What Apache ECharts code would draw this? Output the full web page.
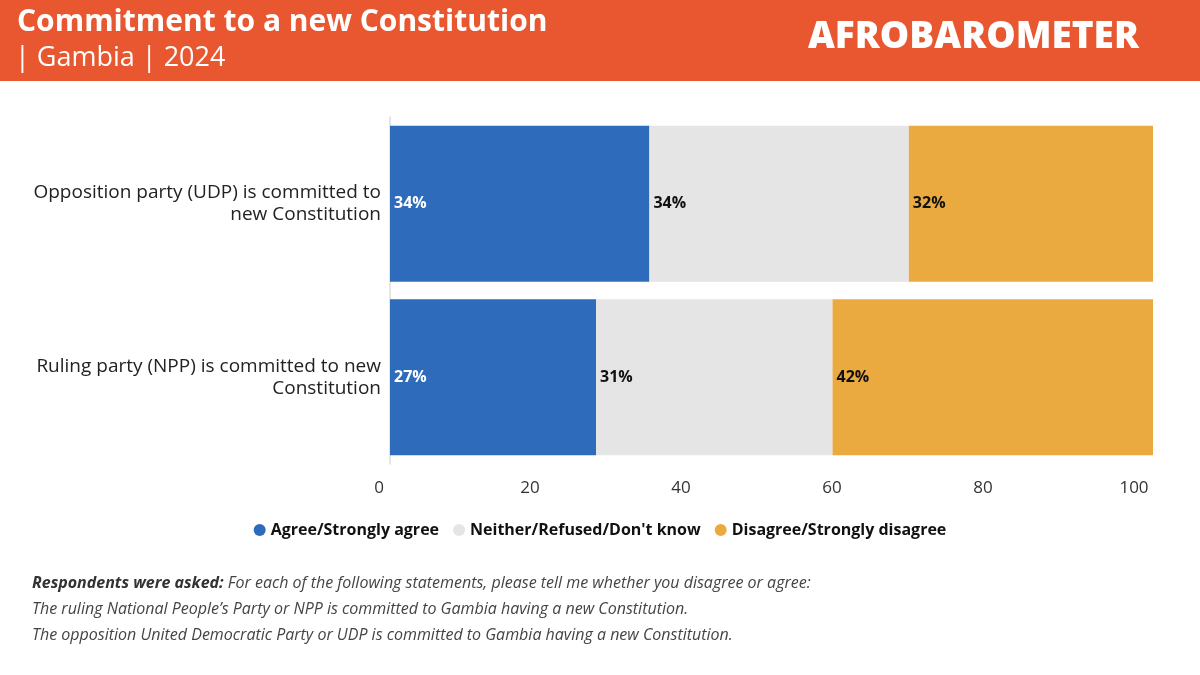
<!DOCTYPE html>
<html>
<head>
<meta charset="utf-8">
<script src="https://cdn.jsdelivr.net/npm/echarts@6/dist/echarts.min.js"></script>
<style>
  html, body { margin: 0; padding: 0; background: #fff; }
  #chart { width: 1200px; height: 675px; }
</style>
</head>
<body>
<div id="chart"></div>
<script>
// categories, top to bottom
const statements = [
    'Opposition party (UDP) is committed to\nnew Constitution',
    'Ruling party (NPP) is committed to new\nConstitution'
];
// percent per answer group
const agreeVals = [34, 27];
const neitherVals = [34, 31];
const disagreeVals = [32, 42];
const seriesNames = ['Agree/Strongly agree', 'Neither/Refused/Don\'t know', 'Disagree/Strongly disagree'];

const FONT = '"Open Sans", "Noto Sans", sans-serif';
const chart = echarts.init(document.getElementById('chart'));

// one bar series per answer group
function barSeries(name, data, color, labelColor) {
    return {
        name: name,
        type: 'bar',
        stack: 'total',
        data: data,
        barWidth: 156,
        itemStyle: { color: color },
        label: {
            show: true,
            position: 'insideLeft',
            distance: 4,
            formatter: '{c}%',
            color: labelColor,
            fontFamily: FONT,
            fontWeight: 'bold',
            fontSize: 16
        }
    };
}

const option = {
    backgroundColor: '#fff',
    animation: false,
    grid: [
        { left: 390, right: 47, top: 117, bottom: 211 },
        // labels-only grid (the tick labels sit slightly left of the bars in the original)
        { left: 379, right: 66, top: 117, bottom: 211 }
    ],
    xAxis: [
        {
            type: 'value', gridIndex: 0, min: 0, max: 100,
            axisLabel: { show: false }, axisLine: { show: false },
            axisTick: { show: false }, splitLine: { show: false }
        },
        {
            type: 'value', gridIndex: 1, min: 0, max: 100, interval: 20,
            axisLabel: { color: '#333', fontFamily: FONT, fontSize: 17, margin: 16 },
            axisLine: { show: false }, axisTick: { show: false }, splitLine: { show: false }
        }
    ],
    yAxis: [
        {
            type: 'category', gridIndex: 0, data: statements, inverse: true,
            axisLine: { show: true, lineStyle: { color: '#dcdcdc', width: 1.5 } },
            axisTick: { show: false },
            axisLabel: {
                color: '#222', fontFamily: FONT, fontSize: 19, lineHeight: 22,
                align: 'right', margin: 9
            }
        },
        {
            type: 'category', gridIndex: 1, data: statements, show: false
        }
    ],
    legend: {
        top: 517,
        left: 'center',
        itemWidth: 12,
        itemHeight: 12,
        itemGap: 14,
        icon: 'circle',
        data: seriesNames,
        textStyle: { color: '#111', fontFamily: FONT, fontWeight: 'bold', fontSize: 16 }
    },
    series: [
        barSeries(seriesNames[0], agreeVals, '#2E6BBA', '#fff'),
        barSeries(seriesNames[1], neitherVals, '#E5E5E5', '#111'),
        barSeries(seriesNames[2], disagreeVals, '#EBAA3F', '#111')
    ],
    graphic: [
        // header band
        { type: 'rect', left: 0, top: 0, shape: { width: 1200, height: 81 }, style: { fill: '#E8572F' }, silent: true },
        {
            type: 'text', left: 17, top: 7,
            style: { text: 'Commitment to a new Constitution', fill: '#fff', font: 'bold 30px ' + FONT }
        },
        {
            type: 'text', left: 15, top: 45,
            style: { text: '| Gambia | 2024', fill: '#fff', font: '27px ' + FONT }
        },
        {
            type: 'text', left: 808, top: 19,
            style: { text: 'AFROBAROMETER', fill: '#fff', font: '800 37px ' + FONT }
        },
        // question wording
        {
            type: 'text', left: 32, top: 575,
            style: {
                text: '{b|Respondents were asked:} For each of the following statements, please tell me whether you disagree or agree:',
                font: 'italic 16px ' + FONT, fill: '#444',
                rich: { b: { font: 'italic bold 16px ' + FONT, fill: '#333' } }
            }
        },
        {
            type: 'text', left: 32, top: 601,
            style: { text: 'The ruling National People\u2019s Party or NPP is committed to Gambia having a new Constitution.', font: 'italic 16px ' + FONT, fill: '#444' }
        },
        {
            type: 'text', left: 32, top: 627,
            style: { text: 'The opposition United Democratic Party or UDP is committed to Gambia having a new Constitution.', font: 'italic 16px ' + FONT, fill: '#444' }
        }
    ]
};

chart.setOption(option);
</script>
</body>
</html>
